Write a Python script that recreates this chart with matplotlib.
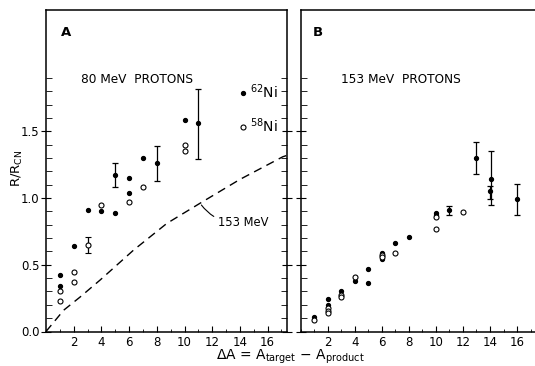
import matplotlib
matplotlib.use("Agg")
import matplotlib.pyplot as plt
from matplotlib.lines import Line2D
from matplotlib.ticker import MultipleLocator, FixedLocator

plt.rcParams['font.family'] = ['DejaVu Sans']

# ---- Panel A: 80 MeV protons ----
a_ni62_x = [1, 1, 2, 3, 4, 5, 6, 6, 7, 10]
a_ni62_y = [0.42, 0.34, 0.64, 0.91, 0.90, 0.89, 1.15, 1.04, 1.30, 1.585]
a_ni58_x = [1, 1, 2, 2, 4, 6, 7, 10, 10]
a_ni58_y = [0.30, 0.23, 0.445, 0.37, 0.945, 0.97, 1.08, 1.395, 1.35]
# points with error bars
a_err62_x = [5, 8, 11]
a_err62_y = [1.17, 1.265, 1.56]
a_err62_lo = [1.085, 1.13, 1.295]
a_err62_hi = [1.26, 1.39, 1.815]
a_err58_x = [3]
a_err58_y = [0.65]
a_err58_lo = [0.59]
a_err58_hi = [0.71]
# 153 MeV curve
curve_x = [0, 1.28, 2.48, 3.92, 6.32, 8.72, 11.1, 14.0, 17.1, 17.4]
curve_y = [0, 0.16, 0.26, 0.387, 0.61, 0.81, 0.96, 1.14, 1.31, 1.32]

# ---- Panel B: 153 MeV protons ----
b_ni62_x = [1, 2, 2, 3, 4, 5, 5, 6, 6, 7, 8, 10, 10]
b_ni62_y = [0.11, 0.245, 0.195, 0.30, 0.38, 0.47, 0.367, 0.59, 0.54, 0.665, 0.71, 0.89, 0.875]
b_ni58_x = [1, 2, 2, 2, 3, 3, 4, 6, 6, 7, 10, 10, 12]
b_ni58_y = [0.087, 0.175, 0.155, 0.135, 0.275, 0.26, 0.41, 0.57, 0.56, 0.59, 0.855, 0.77, 0.894]
b_err62_x = [11, 13, 14, 14.1, 16]
b_err62_y = [0.908, 1.30, 1.05, 1.14, 0.99]
b_err62_lo = [0.876, 1.18, 0.996, 0.945, 0.876]
b_err62_hi = [0.94, 1.42, 1.094, 1.35, 1.107]

xticks_major = [2, 4, 6, 8, 10, 12, 14, 16]
yticks_major = [0.0, 0.5, 1.0, 1.5]

W, H = 535, 366
fig = plt.figure(figsize=(W / 100, H / 100), dpi=100)

def frac(x0, x1, ytop, ybot):
    return [x0 / W, 1 - ybot / H, (x1 - x0) / W, (ybot - ytop) / H]

axA = fig.add_axes(frac(46, 287, 10, 331.5))
axB = fig.add_axes(frac(300.5, 535 + 1, 10, 331.5))

fs = 8.5
for ax in (axA, axB):
    ax.set_xlim(0, 17.4)
    ax.set_ylim(0, 2.41)
    ax.xaxis.set_major_locator(FixedLocator(xticks_major))
    ax.xaxis.set_minor_locator(MultipleLocator(1))
    ax.yaxis.set_major_locator(FixedLocator(yticks_major))
    ax.yaxis.set_minor_locator(FixedLocator([i / 10 for i in range(0, 20)]))
    ax.tick_params(axis='x', which='major', direction='in', length=4, width=0.8,
                   labelsize=fs, pad=3)
    ax.tick_params(axis='x', which='minor', direction='in', length=2, width=0.6)
    ax.tick_params(axis='y', which='major', direction='inout', length=7, width=0.8,
                   labelsize=fs, pad=1)
    ax.tick_params(axis='y', which='minor', direction='in', length=4, width=0.6)
    for s in ax.spines.values():
        s.set_linewidth(1.1)

axA.tick_params(axis='y', which='both', left=True, right=True, labelleft=True)
axA.set_yticklabels(['0.0', '0.5', '1.0', '1.5'])
axB.tick_params(axis='y', which='both', left=True, right=False, labelleft=False)
axB.spines['right'].set_visible(False)

ms_f = 2.8
ms_o = 3.6
ekw = dict(fmt='o', color='black', ms=ms_f, elinewidth=0.9, capsize=2.5, capthick=0.9)

# Panel A
axA.plot(a_ni62_x, a_ni62_y, 'o', color='black', ms=ms_f, ls='none')
axA.plot(a_ni58_x, a_ni58_y, 'o', mfc='white', mec='black', mew=0.8, ms=ms_o, ls='none')
axA.errorbar(a_err62_x, a_err62_y,
             yerr=[[y - l for y, l in zip(a_err62_y, a_err62_lo)],
                   [h - y for y, h in zip(a_err62_y, a_err62_hi)]], **ekw)
axA.errorbar(a_err58_x, a_err58_y,
             yerr=[[y - l for y, l in zip(a_err58_y, a_err58_lo)],
                   [h - y for y, h in zip(a_err58_y, a_err58_hi)]],
             fmt='o', mfc='white', mec='black', color='black', ms=ms_o, mew=0.8,
             elinewidth=0.9, capsize=2.5, capthick=0.9)
axA.plot(curve_x, curve_y, color='black', lw=1.0, dashes=(6, 4))

axA.annotate('153 MeV', xy=(11.1, 0.965), xytext=(12.4, 0.82),
             fontsize=8.3, va='center', ha='left',
             arrowprops=dict(arrowstyle='-', lw=0.8, color='black',
                             connectionstyle='arc3,rad=-0.3',
                             shrinkA=1, shrinkB=2))

axA.text(0.085, 0.93, 'A', transform=axA.transAxes, fontsize=9.5, fontweight='bold',
         va='center', ha='center')
axA.text(0.145, 0.785, '80 MeV  PROTONS', transform=axA.transAxes, fontsize=8.7,
         va='center', ha='left')

handles = [Line2D([], [], marker='o', color='black', ms=ms_f, ls='none'),
           Line2D([], [], marker='o', mfc='white', mec='black', mew=0.8, ms=ms_o, ls='none')]
axA.legend(handles, ['$^{62}$Ni', '$^{58}$Ni'], loc='upper left',
           bbox_to_anchor=(0.76, 0.805), frameon=False, fontsize=10,
           handlelength=0.6, handletextpad=0.2, labelspacing=1.1, borderpad=0.2)

# Panel B
axB.plot(b_ni62_x, b_ni62_y, 'o', color='black', ms=ms_f, ls='none')
axB.plot(b_ni58_x, b_ni58_y, 'o', mfc='white', mec='black', mew=0.8, ms=ms_o, ls='none')
axB.errorbar(b_err62_x, b_err62_y,
             yerr=[[y - l for y, l in zip(b_err62_y, b_err62_lo)],
                   [h - y for y, h in zip(b_err62_y, b_err62_hi)]], **ekw)

axB.text(0.075, 0.93, 'B', transform=axB.transAxes, fontsize=9.5, fontweight='bold',
         va='center', ha='center')
axB.text(0.17, 0.785, '153 MeV  PROTONS', transform=axB.transAxes, fontsize=8.7,
         va='center', ha='left')

fig.text(17 / W, 1 - 168 / H, 'R/R$_{\\mathrm{CN}}$', rotation=90, fontsize=9.5,
         va='center', ha='center')
fig.text(290 / W, 1 - 357 / H,
         '$\\Delta$A = A$_{\\mathrm{target}}$ $-$ A$_{\\mathrm{product}}$',
         fontsize=10, va='center', ha='center')

fig.savefig('out.png', dpi=100)
